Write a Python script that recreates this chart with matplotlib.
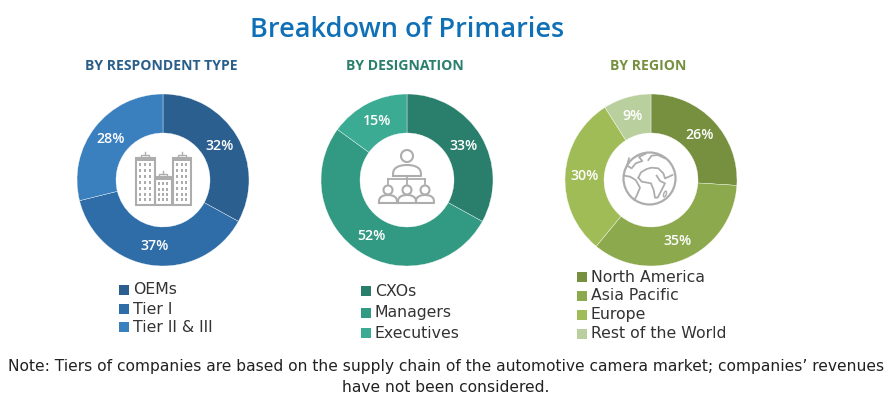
import numpy as np
import matplotlib
matplotlib.use("Agg")
import matplotlib.pyplot as plt
from matplotlib.patches import Rectangle, Circle, Ellipse

# Values
respondent_labels = ['OEMs', 'Tier I', 'Tier II & III']
respondent_values = [32, 37, 28]
respondent_colors = ['#2A5F8F', '#2E6DA8', '#3A7FBE']

designation_labels = ['CXOs', 'Managers', 'Executives']
designation_values = [33, 52, 15]
designation_colors = ['#2A7F6C', '#329A83', '#3BAB93']

region_labels = ['North America', 'Asia Pacific', 'Europe', 'Rest of the World']
region_values = [26, 35, 30, 9]
region_colors = ['#76903F', '#8CA94D', '#A0BC57', '#BACF9E']

title_text = 'Breakdown of Primaries'
note_lines = ["Note: Tiers of companies are based on the supply chain of the automotive camera market; companies\u2019 revenues",
              "have not been considered."]

W, H = 895, 405
GREY = '#ADADAD'
LEG_FONT = 'DejaVu Sans'


def Y(y):
    # picture rows run downwards
    return H - y


fig = plt.figure(figsize=(W / 100, H / 100), dpi=100)
ax = fig.add_axes([0, 0, 1, 1])


def donut(cx, values, colors):
    wedges, texts = ax.pie(values, colors=colors, labels=[f'{v}%' for v in values],
                           labeldistance=0.77, startangle=90, counterclock=False,
                           center=(cx, Y(180)), radius=86,
                           wedgeprops=dict(width=39, edgecolor='white', linewidth=0.25),
                           textprops=dict(color='white', fontsize=10.2, fontweight='semibold',
                                          family='Open Sans'))
    for t in texts:
        t.set_ha('center')
        t.set_va('center')


donut(163, respondent_values, respondent_colors)
donut(407, designation_values, designation_colors)
donut(651, region_values, region_colors)

ax.set_xlim(0, W)
ax.set_ylim(0, H)
ax.set_aspect('equal')
ax.axis('off')

ax.text(407.5, Y(30), title_text, fontsize=19.5, color='#0F70B7', ha='center', va='center',
        family='Open Sans', fontweight='semibold')

ax.text(161, Y(66), 'BY RESPONDENT TYPE', fontsize=10.1, color='#2A5F8A', ha='center', va='center',
        family='Open Sans', fontweight='bold')
ax.text(405, Y(66), 'BY DESIGNATION', fontsize=10.1, color='#2A7F6C', ha='center', va='center',
        family='Open Sans', fontweight='bold')
ax.text(648, Y(66), 'BY REGION', fontsize=10.1, color='#76903F', ha='center', va='center',
        family='Open Sans', fontweight='bold')


def legend(x, rows, labels, colors):
    for y, name, c in zip(rows, labels, colors):
        ax.add_patch(Rectangle((x, Y(y + 5)), 10, 10, facecolor=c, edgecolor='none'))
        ax.text(x + 14, Y(y), name, fontsize=11.3, color='#333333', ha='left', va='center',
                family=LEG_FONT)


legend(119, [290, 309, 327], respondent_labels, respondent_colors)
legend(361, [291, 313, 333], designation_labels, designation_colors)
legend(577, [277, 296, 315, 334], region_labels, region_colors)

ax.text(446, Y(366), note_lines[0], fontsize=11.15, color='#222222', ha='center', va='center', family=LEG_FONT)
ax.text(446, Y(387), note_lines[1], fontsize=11.15, color='#222222', ha='center', va='center', family=LEG_FONT)


# Centre icons
def tower(x0, x1, y0, y1, cols, rows):
    ax.add_patch(Rectangle((x0, Y(y1)), x1 - x0, y1 - y0, facecolor='none', edgecolor=GREY, linewidth=1.5))
    ax.add_patch(Rectangle((x0, Y(y0 + 3)), x1 - x0, 3, facecolor=GREY, edgecolor='none'))
    mid = (x0 + x1) / 2
    ax.add_patch(Rectangle((mid - 4, Y(y0)), 8, 3, facecolor='none', edgecolor=GREY, linewidth=1.0))
    ax.plot([mid, mid], [Y(y0 - 3), Y(y0 - 6)], color=GREY, linewidth=1.0)
    xs = np.linspace(x0 + 4.5, x1 - 4.5, cols)
    ys = np.linspace(y0 + 7, y1 - 5, rows)
    for wx in xs:
        for wy in ys:
            ax.add_patch(Rectangle((wx - 1, Y(wy) - 1.5), 2, 3, facecolor=GREY, edgecolor='none'))


tower(136, 155, 158, 205, 3, 7)
tower(155, 172, 177, 205, 3, 4)
tower(173, 191, 158, 205, 3, 7)


def person(cx, cy, head, bw, top, bottom, lw):
    ax.add_patch(Circle((cx, Y(cy)), head, facecolor='white', edgecolor=GREY, linewidth=lw, zorder=4))
    t = np.linspace(np.pi, 0, 30)
    bx = cx + bw / 2 * np.cos(t)
    by = top + (bottom - top) * (1 - np.sin(t) ** 0.6)
    bx = np.r_[bx, bx[0]]
    by = np.r_[by, by[0]]
    ax.plot(bx, Y(by), color=GREY, linewidth=lw, zorder=3)


person(407, 156, 6, 28, 165, 176, 1.5)
ax.plot([407, 407], [Y(176), Y(184)], color=GREY, linewidth=1.3)
ax.plot([388, 425], [Y(179), Y(179)], color=GREY, linewidth=1.3)
ax.plot([388, 388], [Y(179), Y(184)], color=GREY, linewidth=1.3)
ax.plot([425, 425], [Y(179), Y(184)], color=GREY, linewidth=1.3)
for hx in [388, 407, 425]:
    person(hx, 190, 4.5, 18, 195, 203, 1.5)

# Globe, outlines given in crop pixels of the zoomed icon
ax.add_patch(Circle((649.5, Y(178.5)), 26, facecolor='none', edgecolor=GREY, linewidth=1.6))
globe_lines = [
    [(70, 98), (78, 82), (95, 72), (110, 68), (130, 70), (145, 85), (150, 100), (160, 96), (172, 90)],
    [(70, 98), (80, 110), (108, 115), (116, 135), (120, 158), (128, 158), (140, 135), (150, 115), (135, 108), (125, 92)],
    [(42, 40), (36, 62), (50, 70), (62, 55), (82, 48), (72, 36), (92, 26)],
    [(100, 45), (110, 32), (128, 30), (150, 40)],
    [(28, 92), (45, 95), (62, 105), (75, 128), (66, 150), (58, 165)],
]
for line in globe_lines:
    gx = [615 + p[0] / 3 for p in line]
    gy = [145 + p[1] / 3 for p in line]
    ax.plot(gx, Y(np.array(gy)), color=GREY, linewidth=1.3, solid_joinstyle='round')
ax.add_patch(Ellipse((615 + 150 / 3, Y(145 + 147 / 3)), 2.5, 6, angle=-20, facecolor='none', edgecolor=GREY, linewidth=1.0))

fig.savefig('out.png', dpi=100)
